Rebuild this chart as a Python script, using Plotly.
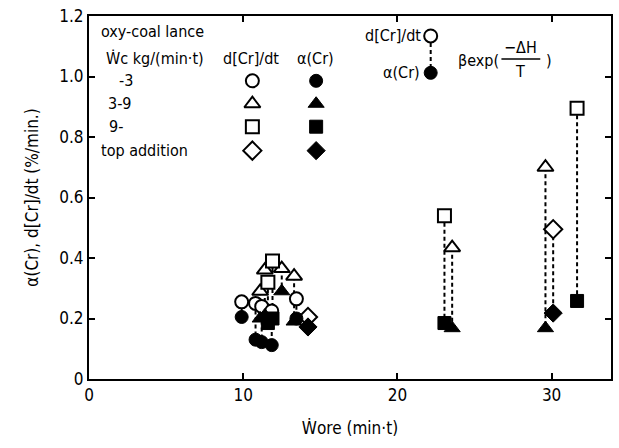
import plotly.graph_objects as go

# Cr reaction rate data vs ore feed rate; each experiment gives
# d[Cr]/dt (open marker) and alpha(Cr) (filled marker) at the same Wore.
circle_x = [9.9, 10.8, 11.2, 11.85, 13.45]
circle_rate = [0.255, 0.25, 0.24, 0.225, 0.265]
circle_alpha = [0.205, 0.13, 0.122, 0.112, 0.2]

triangle_x = [11.1, 11.4, 12.5, 13.3, 23.55, 29.6]
triangle_rate = [0.29, 0.36, 0.365, 0.34, 0.434, 0.70]
triangle_alpha = [0.2, 0.21, 0.29, 0.19, 0.168, 0.168]

square_x = [11.6, 11.9, 23.05, 31.65]
square_rate = [0.32, 0.39, 0.54, 0.895]
square_alpha = [0.185, 0.2, 0.185, 0.258]

diamond_x = [14.2, 30.1]
diamond_rate = [0.205, 0.495]
diamond_alpha = [0.172, 0.218]

x_ticks = [0, 10, 20, 30]
y_ticks = [0, 0.2, 0.4, 0.6, 0.8, 1.0, 1.2]
y_tick_text = ["0", "0.2", "0.4", "0.6", "0.8", "1.0", "1.2"]

legend_rows = ["-3", "3-9", "9-", "top addition"]

FONT = "DejaVu Sans Condensed, Liberation Sans Narrow, Arial Narrow, sans-serif"

series = [
    ("circle", circle_x, circle_rate, circle_alpha, 13),
    ("triangle-up", triangle_x, triangle_rate, triangle_alpha, 14),
    ("square", square_x, square_rate, square_alpha, 13),
    ("diamond", diamond_x, diamond_rate, diamond_alpha, 14),
]

fig = go.Figure()

# dashed connectors between rate and alpha of each experiment
for sym, xs, rate, alpha, size in series:
    lx, ly = [], []
    for x, r, a in zip(xs, rate, alpha):
        lx += [x, x, None]
        ly += [r, a, None]
    fig.add_trace(go.Scatter(x=lx, y=ly, mode="lines",
                             line=dict(color="black", width=2, dash="4px,3px"),
                             hoverinfo="skip", showlegend=False))

for sym, xs, rate, alpha, size in series:
    fig.add_trace(go.Scatter(x=xs, y=rate, mode="markers", showlegend=False,
                             marker=dict(symbol=sym, size=size, color="white",
                                         line=dict(color="black", width=2))))
for sym, xs, rate, alpha, size in series:
    fig.add_trace(go.Scatter(x=xs, y=alpha, mode="markers", showlegend=False,
                             marker=dict(symbol=sym, size=size, color="black",
                                         line=dict(color="black", width=1))))

# key table (paper coordinates)
def px_to_paper(px, py):
    return (px - 89) / (613 - 89), (379 - py) / (379 - 15)

annotations = []
def txt(text, px, py, anchor="left", size=16):
    x, y = px_to_paper(px, py)
    annotations.append(dict(text=text, x=x, y=y, xref="paper", yref="paper",
                            xanchor=anchor, yanchor="middle", showarrow=False,
                            font=dict(family=FONT, size=size, color="black")))

txt("oxy-coal lance", 99, 31)
txt("Ẇc kg/(min·t)", 104, 58)
txt("d[Cr]/dt", 252, 58, anchor="center")
txt("α(Cr)", 316, 58, anchor="center")
row_y = [80, 103, 126, 150]
row_x = [117, 106, 107, 99]
for label, ry, rx in zip(legend_rows, row_y, row_x):
    txt(label, rx, ry)

key_open_x, key_fill_x = 253, 317
for (sym, _, _, _, size), ry in zip(series, row_y):
    kx1, ky = px_to_paper(key_open_x, ry)
    kx2, _ = px_to_paper(key_fill_x, ry)
    fig.add_trace(go.Scatter(x=[kx1], y=[ky], xaxis="x2", yaxis="y2", mode="markers",
                             showlegend=False, hoverinfo="skip",
                             marker=dict(symbol=sym, size=size, color="white",
                                         line=dict(color="black", width=2))))
    fig.add_trace(go.Scatter(x=[kx2], y=[ky], xaxis="x2", yaxis="y2", mode="markers",
                             showlegend=False, hoverinfo="skip",
                             marker=dict(symbol=sym, size=size, color="black",
                                         line=dict(color="black", width=1))))

# upper-right key: rate above alpha joined by a dashed line
cx, cy1 = px_to_paper(432, 35)
_, cy2 = px_to_paper(432, 72)
fig.add_trace(go.Scatter(x=[cx, cx], y=[cy1, cy2], xaxis="x2", yaxis="y2", mode="lines",
                         showlegend=False, hoverinfo="skip",
                         line=dict(color="black", width=2, dash="4px,3px")))
fig.add_trace(go.Scatter(x=[cx], y=[cy1], xaxis="x2", yaxis="y2", mode="markers",
                         showlegend=False, hoverinfo="skip",
                         marker=dict(symbol="circle", size=13, color="white",
                                     line=dict(color="black", width=2))))
fig.add_trace(go.Scatter(x=[cx], y=[cy2], xaxis="x2", yaxis="y2", mode="markers",
                         showlegend=False, hoverinfo="skip",
                         marker=dict(symbol="circle", size=13, color="black",
                                     line=dict(color="black", width=1))))
txt("d[Cr]/dt", 424, 35, anchor="right")
txt("α(Cr)", 423, 72, anchor="right")

# beta exp(-dH/T)
txt("βexp(", 457, 60)
txt("−ΔH", 522, 47, anchor="center")
txt("T", 522, 71, anchor="center")
txt(")", 546, 60)
fx1, fy = px_to_paper(503, 58)
fx2, _ = px_to_paper(542, 58)

fig.update_layout(
    width=619, height=448,
    margin=dict(l=89, r=6, t=15, b=69),
    paper_bgcolor="white", plot_bgcolor="white",
    font=dict(family=FONT, size=16, color="black"),
    annotations=annotations,
    shapes=[dict(type="line", xref="paper", yref="paper", x0=fx1, x1=fx2, y0=fy, y1=fy,
                 line=dict(color="black", width=1.5))],
    xaxis=dict(range=[0, 33.85], tickvals=x_ticks, ticks="inside", ticklen=6,
               tickwidth=1.5, tickcolor="black", mirror="ticks", showline=True,
               linecolor="black", linewidth=2, showgrid=False, zeroline=False,
               tickfont=dict(size=17),
               title=dict(text="Ẇore (min·t)", font=dict(size=17), standoff=18)),
    yaxis=dict(range=[0, 1.2], tickvals=y_ticks, ticktext=y_tick_text, ticks="inside",
               ticklen=6, tickwidth=1.5, tickcolor="black", mirror="ticks", showline=True,
               linecolor="black", linewidth=2, showgrid=False, zeroline=False,
               tickfont=dict(size=17),
               title=dict(text="α(Cr), d[Cr]/dt (%/min.)", font=dict(size=17), standoff=16)),
    xaxis2=dict(range=[0, 1], overlaying="x", visible=False, fixedrange=True),
    yaxis2=dict(range=[0, 1], overlaying="y", visible=False, fixedrange=True),
)

fig.write_html("out.html")
